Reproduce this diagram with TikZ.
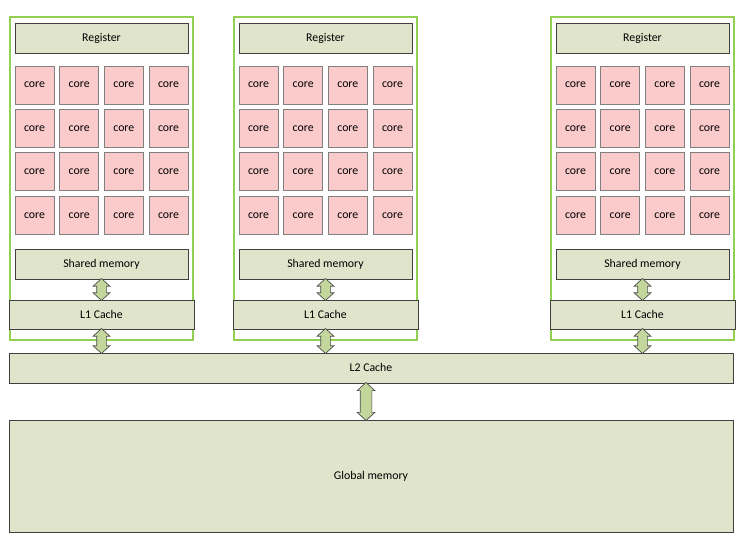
\documentclass[tikz,border=0pt]{standalone}
\usepackage{fontspec}
\setmainfont{Carlito}
\usepackage{tikz}
\usetikzlibrary{positioning,calc,shapes.arrows}

\definecolor{boxfill}{HTML}{DFE4CA}
\definecolor{corefill}{HTML}{FBCBCB}
\definecolor{arrowfill}{HTML}{C3D69B}
\definecolor{smgreen}{HTML}{92D050}

\begin{document}
\begin{tikzpicture}[x=1pt,y=-1pt,font=\fontsize{11.8}{14}\selectfont]
\tikzstyle{level}=[rectangle, draw=black!75, fill=boxfill, inner sep=0pt, line width=0.8pt, text depth=0.5pt]
\tikzstyle{core}=[rectangle, draw=black!50, fill=corefill, minimum width=39pt, minimum height=38pt, inner sep=0pt, line width=0.8pt]
\tikzstyle{smbox}=[draw=smgreen, line width=1.2pt]
\tikzstyle{link}=[double arrow, draw=black!70, fill=arrowfill, inner sep=4.5pt, minimum width=16pt, double arrow head extend=3.5pt, double arrow tip angle=95, shape border rotate=90, line width=0.7pt]
\useasboundingbox (0,0) rectangle (744,548);

  % three multiprocessors
  \foreach \n/\ox in {1/0, 2/224, 3/541} {
    \draw[smbox] (10+\ox,17) rectangle (193+\ox,340);
    \node[level, minimum width=173pt, minimum height=30pt] (reg\n) at (101.5+\ox,38) {Register};
    \foreach \c in {0,...,3}
      \foreach \r in {0,...,3}
        \node[core] (core\n\r\c) at (34.5+44.67*\c+\ox, 85+43.4*\r) {core};
    \node[level, minimum width=173pt, minimum height=30pt] (shm\n) at (101.5+\ox,264) {Shared memory};
    \node[level, minimum width=185pt, minimum height=29pt] (lone\n) at (101.5+\ox,314.5) {L1 Cache};
  }

  \node[level, minimum width=724pt, minimum height=30pt] (ltwo) at (371,368) {L2 Cache};
  \node[level, minimum width=724pt, minimum height=112pt] (glob) at (371,476) {Global memory};

  % transfers between levels
  \foreach \n in {1,2,3} {
    \node[link, minimum height=22pt] (a\n) at ($(shm\n.south)!.5!(lone\n.north)$) {};
    \node[link, minimum height=25pt] (b\n) at ($(lone\n.south)!.5!(lone\n.south |- ltwo.north)$) {};
  }
  \node[link, minimum height=38pt, minimum width=17pt, inner sep=5.5pt, double arrow head extend=3pt] (c) at ($(ltwo.south)!.5!(glob.north)+(-5,0)$) {};
\end{tikzpicture}
\end{document}
